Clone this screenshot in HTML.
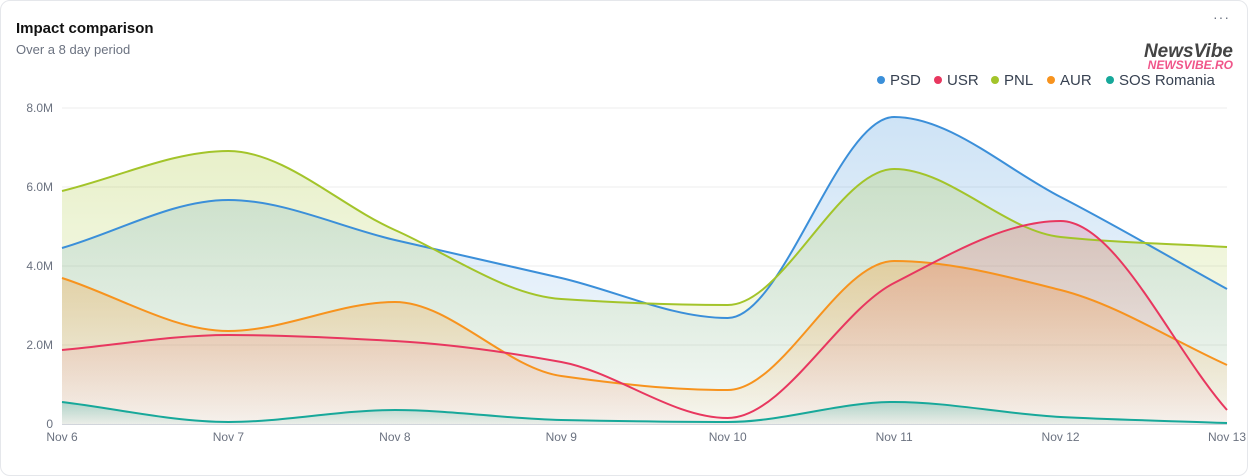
<!DOCTYPE html>
<html><head><meta charset="utf-8"><style>
body{margin:0;background:#fff;font-family:"Liberation Sans",sans-serif;}
.card{position:absolute;left:0;top:0;width:1246px;height:474px;border:1px solid #e5e7eb;border-radius:10px;background:#fff;overflow:hidden}
</style></head><body>
<div class="card">
<svg width="1248" height="476" style="position:absolute;left:-1px;top:-1px">
<defs>
<linearGradient id="gPSD" x1="0" y1="0" x2="0" y2="1"><stop offset="0" stop-color="#3b8fd9" stop-opacity="0.25"/><stop offset="1" stop-color="#3b8fd9" stop-opacity="0.03"/></linearGradient>
<linearGradient id="gPNL" x1="0" y1="0" x2="0" y2="1"><stop offset="0" stop-color="#a3c42a" stop-opacity="0.25"/><stop offset="1" stop-color="#a3c42a" stop-opacity="0.03"/></linearGradient>
<linearGradient id="gAUR" x1="0" y1="0" x2="0" y2="1"><stop offset="0" stop-color="#f7931e" stop-opacity="0.3"/><stop offset="1" stop-color="#f7931e" stop-opacity="0.03"/></linearGradient>
<linearGradient id="gUSR" x1="0" y1="0" x2="0" y2="1"><stop offset="0" stop-color="#e8375f" stop-opacity="0.2"/><stop offset="1" stop-color="#e8375f" stop-opacity="0.03"/></linearGradient>
<linearGradient id="gSOS" x1="0" y1="0" x2="0" y2="1"><stop offset="0" stop-color="#17a89a" stop-opacity="0.3"/><stop offset="1" stop-color="#17a89a" stop-opacity="0.05"/></linearGradient>
</defs>
<text x="16" y="33" font-size="15" font-weight="bold" fill="#111">Impact comparison</text>
<text x="16" y="54" font-size="13" fill="#6b7280">Over a 8 day period</text>
<text x="1230" y="22" font-size="14" fill="#6b7280" text-anchor="end" letter-spacing="1">···</text>
<text x="1233" y="57" font-size="19" font-weight="bold" font-style="italic" fill="#444" text-anchor="end">NewsVibe</text>
<text x="1233" y="69" font-size="12" font-weight="bold" font-style="italic" fill="#f0568a" text-anchor="end">NEWSVIBE.RO</text>
<g font-size="15" fill="#374151">
<circle cx="881" cy="80" r="4" fill="#3b8fd9"/><text x="890" y="85">PSD</text>
<circle cx="938" cy="80" r="4" fill="#e8375f"/><text x="947" y="85">USR</text>
<circle cx="995" cy="80" r="4" fill="#a3c42a"/><text x="1004" y="85">PNL</text>
<circle cx="1051" cy="80" r="4" fill="#f7931e"/><text x="1060" y="85">AUR</text>
<circle cx="1110" cy="80" r="4" fill="#17a89a"/><text x="1119" y="85">SOS Romania</text>
</g>
<g stroke="#ececec" stroke-width="1">
<line x1="62" x2="1227" y1="108" y2="108"/><line x1="62" x2="1227" y1="187" y2="187"/><line x1="62" x2="1227" y1="266" y2="266"/><line x1="62" x2="1227" y1="345" y2="345"/>
</g>
<g font-size="12" fill="#6b7280" text-anchor="end">
<text x="53" y="112">8.0M</text><text x="53" y="191">6.0M</text><text x="53" y="270">4.0M</text><text x="53" y="349">2.0M</text><text x="53" y="428">0</text>
</g>
<g id="series"></g>
<line x1="62" x2="1227" y1="424.5" y2="424.5" stroke="#d1d5db"/>
<g font-size="12" fill="#6b7280" text-anchor="middle" id="xl"></g>
</svg>
</div>
<script>
var xs=[];for(var i=0;i<8;i++)xs.push(62+i*(1165/7));
var S=[
["#3b8fd9","gPSD",[248,200,240,278,318,117,197,289]],
["#a3c42a","gPNL",[191,151,230,299,305,169,237,247]],
["#f7931e","gAUR",[278,331,302,376,390,261,290,365]],
["#e8375f","gUSR",[350,335,341,362,418,283,221,410]],
["#17a89a","gSOS",[402,422,410,420,422,402,417,423]]];
function path(y){var n=y.length,d=[],m=[];for(var i=0;i<n-1;i++)d.push((y[i+1]-y[i])/(xs[i+1]-xs[i]));
m[0]=d[0];m[n-1]=d[n-2];for(i=1;i<n-1;i++){m[i]=(d[i-1]*d[i]<=0)?0:2/(1/d[i-1]+1/d[i]);}
var p="M"+xs[0]+","+y[0];for(i=0;i<n-1;i++){var h=(xs[i+1]-xs[i])/3;p+=" C"+(xs[i]+h)+","+(y[i]+m[i]*h)+" "+(xs[i+1]-h)+","+(y[i+1]-m[i+1]*h)+" "+xs[i+1]+","+y[i+1];}return p;}
var g=document.getElementById("series"),h="";
S.forEach(function(s){var p=path(s[2]);h+='<path d="'+p+' L1227,424 L62,424Z" fill="url(#'+s[1]+')"/>';});
S.forEach(function(s){h+='<path d="'+path(s[2])+'" fill="none" stroke="'+s[0]+'" stroke-width="2"/>';});
g.innerHTML=h;
var xl="";["Nov 6","Nov 7","Nov 8","Nov 9","Nov 10","Nov 11","Nov 12","Nov 13"].forEach(function(t,i){xl+='<text x="'+xs[i]+'" y="441">'+t+'</text>';});
document.getElementById("xl").innerHTML=xl;
</script>
</body></html>
